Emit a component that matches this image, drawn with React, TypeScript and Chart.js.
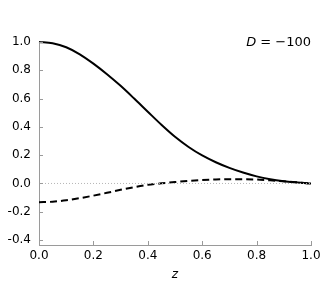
import React, { useEffect, useRef } from "react";
import { Chart, registerables } from "chart.js";

Chart.register(...registerables);

const zValues = [0, 0.05, 0.1, 0.15, 0.2, 0.25, 0.3, 0.35, 0.4, 0.45, 0.5, 0.55, 0.6, 0.65, 0.7, 0.75, 0.8, 0.85, 0.9, 0.95, 1.0];
const solidSeries = [1.0, 0.991, 0.963, 0.913, 0.847, 0.772, 0.69, 0.6, 0.507, 0.415, 0.33, 0.258, 0.198, 0.15, 0.11, 0.077, 0.05, 0.03, 0.016, 0.006, 0.0];
const dashedSeries = [-0.133, -0.129, -0.119, -0.104, -0.086, -0.066, -0.045, -0.026, -0.01, 0.001, 0.01, 0.018, 0.024, 0.028, 0.03, 0.03, 0.028, 0.022, 0.016, 0.008, 0.0];
const zeroLineX = [0, 1];
const zeroLineY = [0, 0];
const xTicks = [0, 0.2, 0.4, 0.6, 0.8, 1.0];
const yTicks = [-0.4, -0.2, 0, 0.2, 0.4, 0.6, 0.8, 1.0];
const annotationText = ["D", " = \u2212100"];
const xTitle = "z";

const FONT = "'DejaVu Sans', sans-serif";
const AXIS_COLOR = "#9a9a9a";

const innerTicksPlugin = {
  id: "innerTicks",
  afterDraw(chart: any) {
    const { ctx, chartArea, scales } = chart;
    ctx.save();
    ctx.strokeStyle = AXIS_COLOR;
    ctx.lineWidth = 1;
    const len = 4;
    for (const v of xTicks) {
      const px = Math.round(scales.x.getPixelForValue(v)) + 0.5;
      ctx.beginPath();
      ctx.moveTo(px, chartArea.bottom);
      ctx.lineTo(px, chartArea.bottom - len);
      ctx.stroke();
    }
    for (const v of yTicks) {
      const py = Math.round(scales.y.getPixelForValue(v)) + 0.5;
      ctx.beginPath();
      ctx.moveTo(chartArea.left, py);
      ctx.lineTo(chartArea.left + len, py);
      ctx.stroke();
    }
    ctx.fillStyle = "#000";
    ctx.textBaseline = "middle";
    ctx.font = `13px ${FONT}`;
    const rest = annotationText[1];
    const restW = ctx.measureText(rest).width;
    ctx.font = `italic 13px ${FONT}`;
    const dW = ctx.measureText(annotationText[0]).width;
    const right = chartArea.right;
    const y = chartArea.top + 1;
    ctx.textAlign = "left";
    ctx.fillText(annotationText[0], right - restW - dW, y);
    ctx.font = `13px ${FONT}`;
    ctx.fillText(rest, right - restW, y);
    ctx.restore();
  },
};

export default function App() {
  const ref = useRef<HTMLCanvasElement>(null);

  useEffect(() => {
    if (!ref.current) return;
    const chart = new Chart(ref.current, {
      type: "line",
      data: {
        datasets: [
          {
            data: zeroLineX.map((x, i) => ({ x, y: zeroLineY[i] })),
            borderColor: "#b5b5b5",
            borderWidth: 1,
            borderDash: [1, 2],
            pointRadius: 0,
            clip: false as any,
          },
          {
            data: zValues.map((x, i) => ({ x, y: dashedSeries[i] })),
            borderColor: "#000",
            borderWidth: 2,
            borderDash: [7, 4],
            pointRadius: 0,
            cubicInterpolationMode: "monotone",
            clip: false as any,
          },
          {
            data: zValues.map((x, i) => ({ x, y: solidSeries[i] })),
            borderColor: "#000",
            borderWidth: 2,
            pointRadius: 0,
            cubicInterpolationMode: "monotone",
            clip: false as any,
          },
        ],
      },
      options: {
        animation: false,
        responsive: false,
        devicePixelRatio: 1,
        layout: { padding: { top: 42, right: 21, left: 0, bottom: 0 } },
        plugins: {
          legend: { display: false },
          tooltip: { enabled: false },
        },
        scales: {
          x: {
            type: "linear",
            min: 0,
            max: 1,
            afterBuildTicks: (scale: any) => {
              scale.ticks = xTicks.map((v) => ({ value: v }));
            },
            afterFit: (scale: any) => {
              scale.height = 46;
            },
            grid: { display: false, drawTicks: false },
            border: { display: true, color: AXIS_COLOR, width: 1 },
            ticks: {
              color: "#000",
              font: { family: FONT, size: 12 },
              padding: 4,
              maxRotation: 0,
              callback: (v: any) => Number(v).toFixed(1),
            },
            title: {
              display: true,
              text: xTitle,
              color: "#000",
              font: { family: FONT, size: 12, style: "italic" },
              padding: { top: 0, bottom: 9 },
            },
          },
          y: {
            type: "linear",
            min: -0.435,
            max: 1.0,
            afterBuildTicks: (scale: any) => {
              scale.ticks = yTicks.map((v) => ({ value: v }));
            },
            afterFit: (scale: any) => {
              scale.width = 39;
            },
            grid: { display: false, drawTicks: false },
            border: { display: true, color: AXIS_COLOR, width: 1 },
            ticks: {
              color: "#000",
              font: { family: FONT, size: 12 },
              padding: 8,
              callback: (v: any) => Number(v).toFixed(1),
            },
          },
        },
      },
      plugins: [innerTicksPlugin],
    });
    return () => chart.destroy();
  }, []);

  return (
    <div style={{ position: "fixed", left: 0, top: 0, width: 332, height: 291, background: "#fff" }}>
      <canvas ref={ref} width={332} height={291} />
    </div>
  );
}
